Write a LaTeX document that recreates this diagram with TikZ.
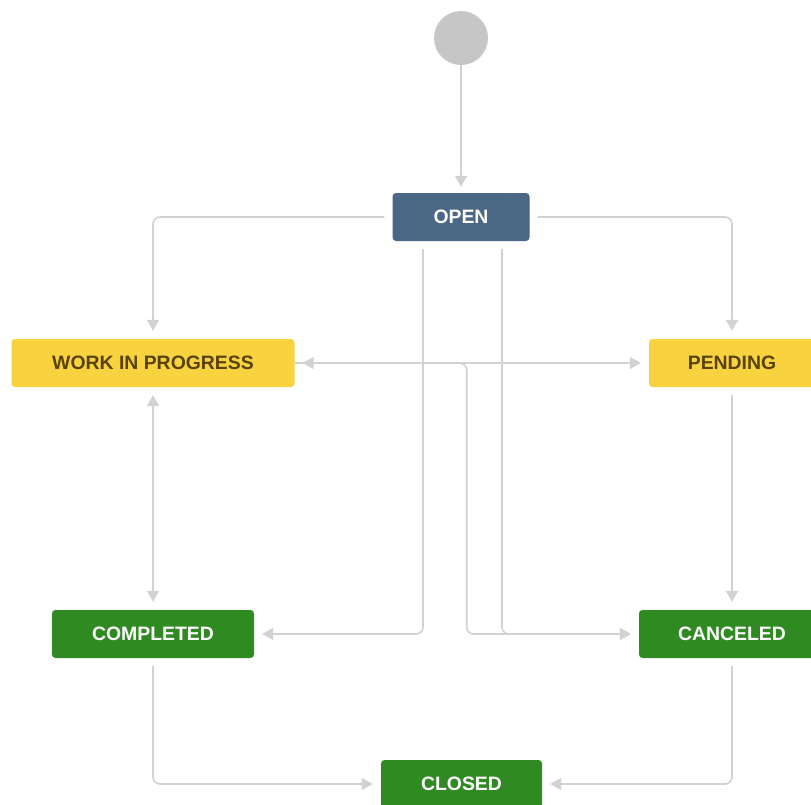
\documentclass[tikz,border=0pt]{standalone}
\usepackage{fontspec}
\setmainfont{Liberation Sans}
\usetikzlibrary{arrows.meta}
\definecolor{openblue}{HTML}{4A6785}
\definecolor{wipyellow}{HTML}{F8D33F}
\definecolor{wiptext}{HTML}{594300}
\definecolor{donegreen}{HTML}{2F8A22}
\definecolor{linegray}{HTML}{D2D2D2}
\definecolor{startgray}{HTML}{C6C6C6}

\begin{document}
\begin{tikzpicture}[x=1pt, y=-1pt,
  state/.style={rounded corners=3.5pt, minimum height=48pt, inner sep=0pt,
    font=\fontsize{19.4}{19.4}\selectfont\bfseries},
  flow/.style={draw=linegray, line width=1.6pt, rounded corners=7pt,
    shorten <=8pt, shorten >=8pt, -{Triangle[length=11pt,width=12pt]}},
  twoway/.style={flow, {Triangle[length=11pt,width=12pt]}-{Triangle[length=11pt,width=12pt]}}]
\useasboundingbox (0,0) rectangle (811,804);
% states
\node [circle, fill=startgray, minimum size=54pt, inner sep=0pt] (start) at (461,38) {};
\node [state, fill=openblue, text=white, minimum width=137pt] (open) at (461,217) {OPEN};
\node [state, fill=wipyellow, text=wiptext, minimum width=283pt] (wip) at (153,363) {WORK IN PROGRESS};
\node [state, fill=wipyellow, text=wiptext, minimum width=166pt] (pending) at (732,363) {PENDING};
\node [state, fill=donegreen, text=white, minimum width=202pt] (completed) at (153,634) {COMPLETED};
\node [state, fill=donegreen, text=white, minimum width=186pt] (canceled) at (732,634) {CANCELED};
\node [state, fill=donegreen, text=white, minimum width=161pt] (closed) at (461.5,784) {CLOSED};
% transitions
\draw [flow, shorten <=0pt, shorten >=6pt] (start) -- (open);
\draw [flow] (open.west) -| (wip.north);
\draw [flow] (open.east) -| (pending.north);
\draw [twoway] (wip.east) -- (pending.west);
\draw [flow, shorten <=0pt] (wip.east) -- ++(172,0) |- (canceled.west);
\draw [flow] ([xshift=-38pt]open.south) |- (completed.east);
\draw [flow] ([xshift=41pt]open.south) |- (canceled.west);
\draw [twoway] (wip.south) -- (completed.north);
\draw [flow] (pending.south) -- (canceled.north);
\draw [flow] (completed.south) |- (closed.west);
\draw [flow] (canceled.south) |- (closed.east);
\end{tikzpicture}
\end{document}
